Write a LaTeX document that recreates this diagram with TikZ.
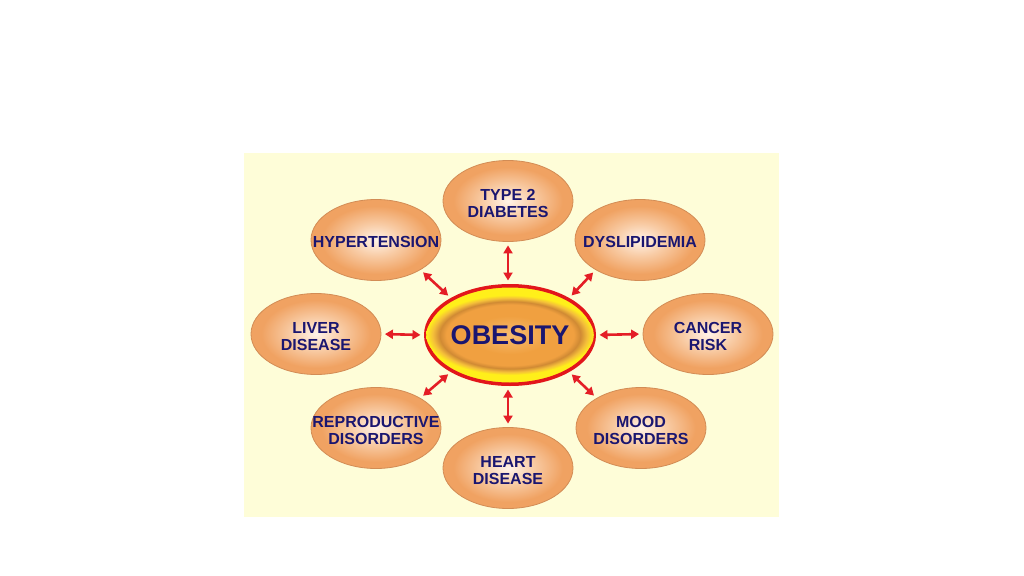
\documentclass[tikz,border=0pt]{standalone}
\usepackage{fontspec}
\setmainfont{Liberation Sans}
\usetikzlibrary{shapes.geometric,arrows.meta}
\definecolor{bgyellow}{HTML}{FEFDD8}
\definecolor{ellout}{HTML}{F0A262}
\definecolor{ellmid}{HTML}{F8CBA4}
\definecolor{ellin}{HTML}{FFF3E8}
\definecolor{ellborder}{HTML}{D28C55}
\definecolor{txtblue}{HTML}{1A1670}
\definecolor{arrred}{HTML}{E41E26}
\definecolor{ringred}{HTML}{E2161B}
\definecolor{ringyellow}{HTML}{FFEF1A}
\definecolor{corein}{HTML}{F7BC70}
\definecolor{coremid}{HTML}{F0A040}
\definecolor{coredark}{HTML}{D08A34}
\definecolor{coreedge}{HTML}{F4BE3A}
\pgfdeclareradialshading{petal}{\pgfpoint{0bp}{0bp}}{color(0bp)=(ellin); color(10bp)=(ellmid); color(21bp)=(ellout); color(25bp)=(ellout); color(50bp)=(ellout)}
\pgfdeclareradialshading{core}{\pgfpoint{0bp}{0bp}}{color(0bp)=(corein); color(12bp)=(coremid); color(19bp)=(coremid); color(21bp)=(coredark); color(23bp)=(coreedge); color(25bp)=(ringyellow); color(50bp)=(ringyellow)}
\newcommand\petaltext[1]{\makebox[0pt]{\begin{tabular}{@{}c@{}}\rule{0pt}{21pt}#1\end{tabular}}}
\tikzset{
  petalnode/.style={ellipse, draw=ellborder, line width=0.8pt, shading=petal,
    minimum width=130pt, minimum height=81pt, inner sep=0pt,
    text=txtblue, font=\bfseries\fontsize{16}{17}\selectfont},
  ringnode/.style={ellipse, draw=ringred, line width=3.5pt, fill=ringyellow,
    minimum width=168.5pt, minimum height=98.5pt, inner sep=0pt},
  corenode/.style={ellipse, shading=core, minimum width=134pt, minimum height=80pt,
    inner sep=0pt, text=txtblue, font=\bfseries\fontsize{27}{30}\selectfont},
  arr/.style={arrred, line width=2.6pt,
    {Triangle[length=8pt,width=9pt]}-{Triangle[length=8pt,width=9pt]},
    shorten <=3.5pt, shorten >=3.5pt}
}
\begin{document}
\begin{tikzpicture}[x=1pt,y=-1pt]
\useasboundingbox (0,0) rectangle (1024,575);
\fill[white] (0,0) rectangle (1024,575);
\fill[bgyellow] (244,153) rectangle (779,517);

\node[ringnode] (obesity) at (510,335) {};
\node[corenode] (core) at (510,335) {OBESITY};

\node[petalnode] (t2) at (508,201) {\petaltext{TYPE 2\\DIABETES}};
\node[petalnode] (hyp) at (376,240) {\petaltext{HYPERTENSION}};
\node[petalnode] (dys) at (640,240) {\petaltext{DYSLIPIDEMIA}};
\node[petalnode] (liver) at (316,334) {\petaltext{LIVER\\DISEASE}};
\node[petalnode] (cancer) at (708,334) {\petaltext{CANCER\\RISK}};
\node[petalnode] (rep) at (376,428) {\petaltext{REPRODUCTIVE\\DISORDERS}};
\node[petalnode] (mood) at (641,428) {\petaltext{MOOD\\DISORDERS}};
\node[petalnode] (heart) at (508,468) {\petaltext{HEART\\DISEASE}};

\draw[arr] (t2.south) -- (t2.south |- obesity.north);
\draw[arr] (obesity.south -| heart.north) -- (heart.north);
\draw[arr] (liver.east) -- (obesity.west);
\draw[arr] (obesity.east) -- (cancer.west);
\draw[arr] (hyp.-34) -- (obesity.148);
\draw[arr] (dys.214) -- (obesity.32);
\draw[arr] (rep.34) -- (obesity.212);
\draw[arr] (mood.146) -- (obesity.-32);
\end{tikzpicture}
\end{document}
